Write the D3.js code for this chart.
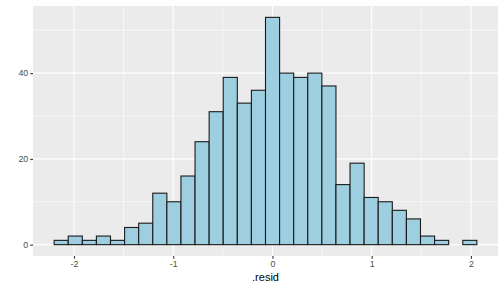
<!DOCTYPE html>
<html lang="en">
<head>
<meta charset="UTF-8">
<title>Histogram of .resid</title>
<script src="https://d3js.org/d3.v7.min.js"></script>
<style>
  body { margin: 0; background: #fff; }
  svg { display: block; font-family: "Liberation Sans", Arial, sans-serif; }
</style>
</head>
<body>
<svg width="504" height="288"></svg>
<script>
// 30 bins, counts
var binStart = -2.2;
var binWidth = 0.142;
var counts = [1, 2, 1, 2, 1, 4, 5, 12, 10, 16, 24, 31, 39, 33, 36, 53, 40, 39, 40, 37, 14, 19, 11, 10, 8, 6, 2, 1, 0, 1];
var xTicks = [-2, -1, 0, 1, 2];
var xMinor = [-1.5, -0.5, 0.5, 1.5];
var yTicks = [0, 20, 40];
var yMinor = [10, 30, 50];

var bins = counts.map((c, i) => ({
  x0: binStart + i * binWidth,
  x1: binStart + (i + 1) * binWidth,
  n: c
}));

var svg = d3.select('svg');
var panel = { left: 33, right: 498, top: 6, bottom: 256 };

var xLo = binStart, xHi = binStart + counts.length * binWidth;
var xPad = (xHi - xLo) * 0.05;
var x = d3.scaleLinear().domain([xLo - xPad, xHi + xPad]).range([panel.left, panel.right]);
var yMax = d3.max(counts);
var y = d3.scaleLinear().domain([-yMax * 0.05, yMax * 1.05]).range([panel.bottom, panel.top]);

svg.append('rect')
  .attr('x', panel.left).attr('y', panel.top)
  .attr('width', panel.right - panel.left).attr('height', panel.bottom - panel.top)
  .attr('fill', '#ebebeb');

// minor grid
svg.selectAll('.ymin').data(yMinor).enter().append('line')
  .attr('x1', panel.left).attr('x2', panel.right)
  .attr('y1', d => y(d)).attr('y2', d => y(d))
  .attr('stroke', '#fff').attr('stroke-width', 0.55);
svg.selectAll('.xmin').data(xMinor).enter().append('line')
  .attr('y1', panel.top).attr('y2', panel.bottom)
  .attr('x1', d => x(d)).attr('x2', d => x(d))
  .attr('stroke', '#fff').attr('stroke-width', 0.55);
// major grid
svg.selectAll('.ymaj').data(yTicks).enter().append('line')
  .attr('x1', panel.left).attr('x2', panel.right)
  .attr('y1', d => y(d)).attr('y2', d => y(d))
  .attr('stroke', '#fff').attr('stroke-width', 1.1);
svg.selectAll('.xmaj').data(xTicks).enter().append('line')
  .attr('y1', panel.top).attr('y2', panel.bottom)
  .attr('x1', d => x(d)).attr('x2', d => x(d))
  .attr('stroke', '#fff').attr('stroke-width', 1.1);

// bars
svg.selectAll('.bar').data(bins).enter().append('rect')
  .attr('x', d => x(d.x0))
  .attr('width', d => x(d.x1) - x(d.x0))
  .attr('y', d => y(d.n))
  .attr('height', d => y(0) - y(d.n))
  .attr('fill', '#9ecfe0')
  .attr('stroke', '#1a1a1a')
  .attr('stroke-width', 1.1);

// axes
var xAxis = d3.axisBottom(x).tickValues(xTicks).tickSize(2.75).tickPadding(2).tickFormat(d3.format('d'));
var yAxis = d3.axisLeft(y).tickValues(yTicks).tickSize(2.75).tickPadding(2).tickFormat(d3.format('d'));

var gx = svg.append('g').attr('transform', 'translate(0,' + panel.bottom + ')').call(xAxis);
var gy = svg.append('g').attr('transform', 'translate(' + panel.left + ',0)').call(yAxis);
[gx, gy].forEach(g => {
  g.select('.domain').remove();
  g.selectAll('.tick line').attr('stroke', '#333').attr('stroke-width', 1.1);
  g.selectAll('.tick text').attr('fill', '#4d4d4d').style('font-size', '8.8px');
});
gx.selectAll('.tick text').text(d => d < 0 ? '-' + Math.abs(d) : d);
gy.selectAll('.tick text').text(d => d);

svg.append('text')
  .attr('x', (panel.left + panel.right) / 2)
  .attr('y', 281)
  .attr('text-anchor', 'middle')
  .style('font-size', '11px')
  .attr('fill', '#000')
  .text('.resid');
</script>
</body>
</html>
